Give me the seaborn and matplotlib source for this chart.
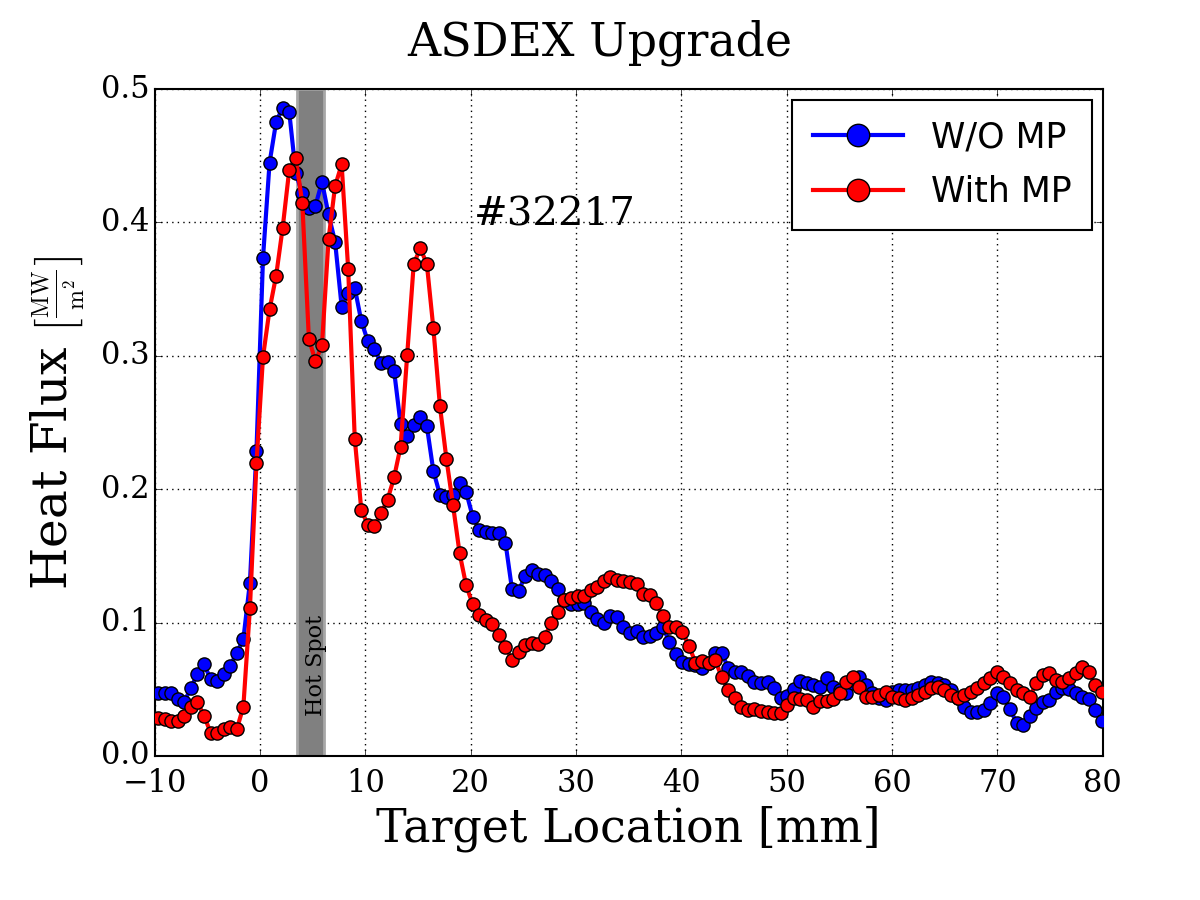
import matplotlib
matplotlib.use('Agg')
import matplotlib.pyplot as plt
import numpy as np
import seaborn as sns
from matplotlib.ticker import FormatStrFormatter

# Probe positions along the target (mm), evenly spaced
x_mm = np.linspace(-9.68, 79.9, 145)

# Heat flux without magnetic perturbation (MW/m^2)
flux_wo_mp = [
    0.047, 0.047, 0.0475, 0.0425, 0.0407, 0.0512, 0.0615, 0.0687, 0.0577, 0.0562,
    0.0615, 0.0675, 0.0775, 0.0875, 0.130, 0.2286, 0.3735, 0.4448, 0.4753, 0.4862,
    0.483, 0.4368, 0.4218, 0.4105, 0.4125, 0.4305, 0.406, 0.3855, 0.337, 0.347,
    0.351, 0.326, 0.311, 0.305, 0.295, 0.2956, 0.289, 0.2486, 0.240, 0.248,
    0.2544, 0.2474, 0.2136, 0.196, 0.1944, 0.1957, 0.205, 0.198, 0.1794, 0.1694,
    0.168, 0.1674, 0.167, 0.160, 0.125, 0.1237, 0.135, 0.1394, 0.1364, 0.1357,
    0.1314, 0.125, 0.117, 0.114, 0.114, 0.115, 0.108, 0.103, 0.0995, 0.105,
    0.104, 0.097, 0.0925, 0.094, 0.0895, 0.090, 0.0925, 0.097, 0.0857, 0.0765,
    0.0707, 0.069, 0.068, 0.0657, 0.070, 0.077, 0.0775, 0.0657, 0.0632, 0.0632,
    0.060, 0.0557, 0.0545, 0.0557, 0.0507, 0.0432, 0.045, 0.050, 0.0565, 0.0545,
    0.0532, 0.0515, 0.0582, 0.0515, 0.0495, 0.047, 0.055, 0.0595, 0.0532, 0.047,
    0.0432, 0.042, 0.048, 0.0495, 0.0495, 0.0495, 0.0507, 0.0532, 0.0557, 0.0545,
    0.0532, 0.0495, 0.0432, 0.037, 0.0332, 0.0332, 0.0345, 0.0395, 0.047, 0.0445,
    0.035, 0.025, 0.023, 0.030, 0.036, 0.0407, 0.042, 0.048, 0.051, 0.050,
    0.047, 0.0445, 0.043, 0.0345, 0.026,
]

# Heat flux with magnetic perturbation (MW/m^2)
flux_with_mp = [
    0.0282, 0.0277, 0.0265, 0.0265, 0.030, 0.037, 0.0402, 0.0302, 0.0175, 0.017,
    0.020, 0.0215, 0.020, 0.037, 0.1107, 0.2194, 0.2993, 0.3348, 0.360, 0.396,
    0.4393, 0.4485, 0.4143, 0.313, 0.296, 0.308, 0.3873, 0.4273, 0.4435, 0.3648,
    0.238, 0.1844, 0.1732, 0.1726, 0.1819, 0.1919, 0.2089, 0.232, 0.3006, 0.369,
    0.3806, 0.369, 0.3206, 0.2624, 0.2224, 0.188, 0.152, 0.128, 0.1137, 0.1057,
    0.102, 0.0987, 0.0907, 0.082, 0.072, 0.078, 0.0832, 0.0845, 0.084, 0.0895,
    0.100, 0.1082, 0.117, 0.1187, 0.120, 0.120, 0.1244, 0.127, 0.1314, 0.134,
    0.132, 0.1314, 0.1307, 0.129, 0.1214, 0.1207, 0.1145, 0.1047, 0.0968, 0.0968,
    0.0932, 0.0826, 0.070, 0.0715, 0.0695, 0.072, 0.059, 0.0495, 0.0432, 0.037,
    0.0345, 0.035, 0.034, 0.0327, 0.032, 0.0325, 0.038, 0.0435, 0.0425, 0.042,
    0.0365, 0.041, 0.0415, 0.0428, 0.047, 0.0555, 0.0595, 0.052, 0.0445, 0.0445,
    0.0457, 0.048, 0.0445, 0.0432, 0.042, 0.0432, 0.0457, 0.048, 0.0507, 0.0515,
    0.0495, 0.0457, 0.0432, 0.0457, 0.048, 0.0507, 0.0545, 0.0587, 0.0632, 0.0595,
    0.0545, 0.0495, 0.047, 0.0445, 0.0545, 0.0607, 0.0625, 0.057, 0.0557, 0.0582,
    0.062, 0.067, 0.0632, 0.0532, 0.048,
]

hot_spot = (3.5, 6.1)
x_ticks = [-10, 0, 10, 20, 30, 40, 50, 60, 70, 80]
y_ticks = [0.0, 0.1, 0.2, 0.3, 0.4, 0.5]

plt.style.use('classic')
plt.rcParams['font.family'] = 'serif'
plt.rcParams['font.serif'] = ['DejaVu Serif']
plt.rcParams['mathtext.fontset'] = 'cm'
plt.rcParams['legend.numpoints'] = 1

fig = plt.figure(figsize=(12, 9), dpi=100, facecolor='white')
ax = fig.add_axes([0.129, 0.16, 0.79, 0.741])

# hot spot band
ax.axvspan(hot_spot[0], hot_spot[1], facecolor='#808080', edgecolor='#a8a8a8',
           linewidth=2, zorder=1)
ax.text(5.3, 0.03, 'Hot Spot', rotation=90, ha='center', va='bottom',
        fontsize=16, zorder=2)

line_kw = dict(marker='o', markersize=9.5, markeredgecolor='black',
               markeredgewidth=1, linewidth=3, zorder=3)
sns.lineplot(x=x_mm, y=flux_wo_mp, color='#0000ff', label='W/O MP', ax=ax, **line_kw)
sns.lineplot(x=x_mm, y=flux_with_mp, color='#ff0000', label='With MP', ax=ax, **line_kw)

ax.set_xlim(-10, 80)
ax.set_ylim(0, 0.5)
ax.set_xticks(x_ticks)
ax.set_yticks(y_ticks)
ax.yaxis.set_major_formatter(FormatStrFormatter('%.1f'))
ax.tick_params(labelsize=22, direction='in', top=True, right=True, length=5)
ax.tick_params(axis='x', pad=9)
for s in ax.spines.values():
    s.set_linewidth(1.5)
ax.grid(True, color='black', linestyle=':', linewidth=1)
ax.set_axisbelow(True)

ax.text(20.3, 0.398, '#32217', fontsize=29)

# title is centred on the figure, not on the axes
ax.set_title('ASDEX Upgrade', fontsize=33, pad=24, x=0.4694)
ax.set_xlabel('Target Location [mm]', fontsize=33, labelpad=4)
ax.set_ylabel(r'Heat Flux $\left[\genfrac{}{}{1.0}{2}{\mathrm{MW}}{\mathrm{m}^2}\right]$',
              fontsize=35, labelpad=10)

leg = ax.legend(loc='upper right', markerscale=1.7, handlelength=2.6,
                prop={'family': 'DejaVu Sans', 'size': 25}, fancybox=False,
                framealpha=1, borderaxespad=0.3, labelspacing=0.6, borderpad=0.6)
leg.get_frame().set_edgecolor('black')
leg.get_frame().set_linewidth(1.5)

fig.savefig('out.png', dpi=100, facecolor='white')
